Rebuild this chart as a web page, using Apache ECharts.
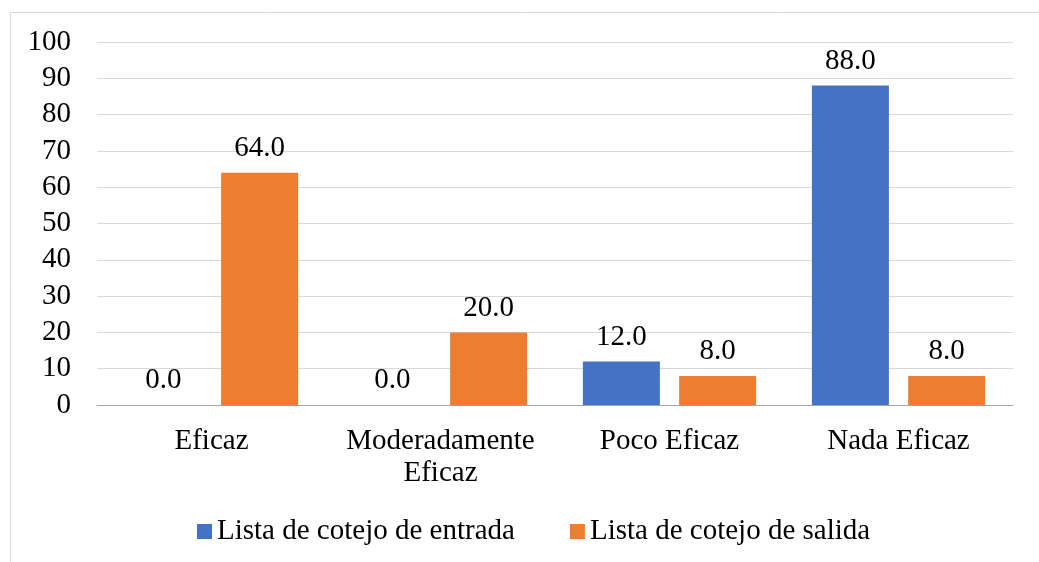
<!DOCTYPE html>
<html>
<head>
<meta charset="utf-8">
<script src="https://cdn.jsdelivr.net/npm/echarts@6/dist/echarts.min.js"></script>
<style>
  html, body { margin: 0; padding: 0; background: #fff; }
  #main { width: 1039px; height: 562px; }
</style>
</head>
<body>
<div id="main"></div>
<script>
var categories = ['Eficaz', 'Moderadamente\nEficaz', 'Poco Eficaz', 'Nada Eficaz'];
var seriesNames = ['Lista de cotejo de entrada', 'Lista de cotejo de salida'];
var entrada = [0, 0, 12, 88];
var salida = [64, 20, 8, 8];

var font = '"Liberation Serif", "Times New Roman", serif';
var fs = 29;

var myChart = echarts.init(document.getElementById('main'), null, { renderer: 'canvas' });

var labelStyle = {
    show: true,
    position: 'top',
    distance: 10,
    color: '#000',
    fontFamily: font,
    fontSize: fs,
    formatter: function (p) { return p.value.toFixed(1); }
};

var option = {
    backgroundColor: '#fff',
    animation: false,
    graphic: [{
        type: 'rect',
        shape: { x: 10.5, y: 12.5, width: 1100, height: 600 },
        style: { fill: 'none', stroke: '#d9d9d9', lineWidth: 1 },
        silent: true,
        z: -1
    }],
    grid: { left: 97, right: 26, top: 42, bottom: 157, containLabel: false },
    legend: {
        bottom: 11,
        left: 192,
        itemWidth: 15,
        itemHeight: 15,
        itemGap: 55,
        icon: 'rect',
        textStyle: { color: '#000', fontFamily: font, fontSize: fs },
        data: seriesNames
    },
    xAxis: {
        type: 'category',
        data: categories,
        axisTick: { show: false },
        axisLine: { lineStyle: { color: '#a6a6a6', width: 1 } },
        axisLabel: {
            color: '#000',
            fontFamily: font,
            fontSize: fs,
            lineHeight: 32,
            margin: 20,
            interval: 0
        }
    },
    yAxis: {
        type: 'value',
        min: 0,
        max: 100,
        interval: 10,
        axisLine: { show: false },
        axisTick: { show: false },
        splitLine: { lineStyle: { color: '#d9d9d9', width: 1 } },
        axisLabel: { color: '#000', fontFamily: font, fontSize: fs, margin: 26 }
    },
    series: [
        {
            name: seriesNames[0],
            type: 'bar',
            data: entrada,
            itemStyle: { color: '#4472c4' },
            barWidth: 77,
            barGap: '25%',
            label: labelStyle
        },
        {
            name: seriesNames[1],
            type: 'bar',
            data: salida,
            itemStyle: { color: '#ed7d31' },
            barWidth: 77,
            barGap: '25%',
            label: labelStyle
        }
    ]
};

myChart.setOption(option);
window.addEventListener('resize', myChart.resize);
</script>
</body>
</html>
